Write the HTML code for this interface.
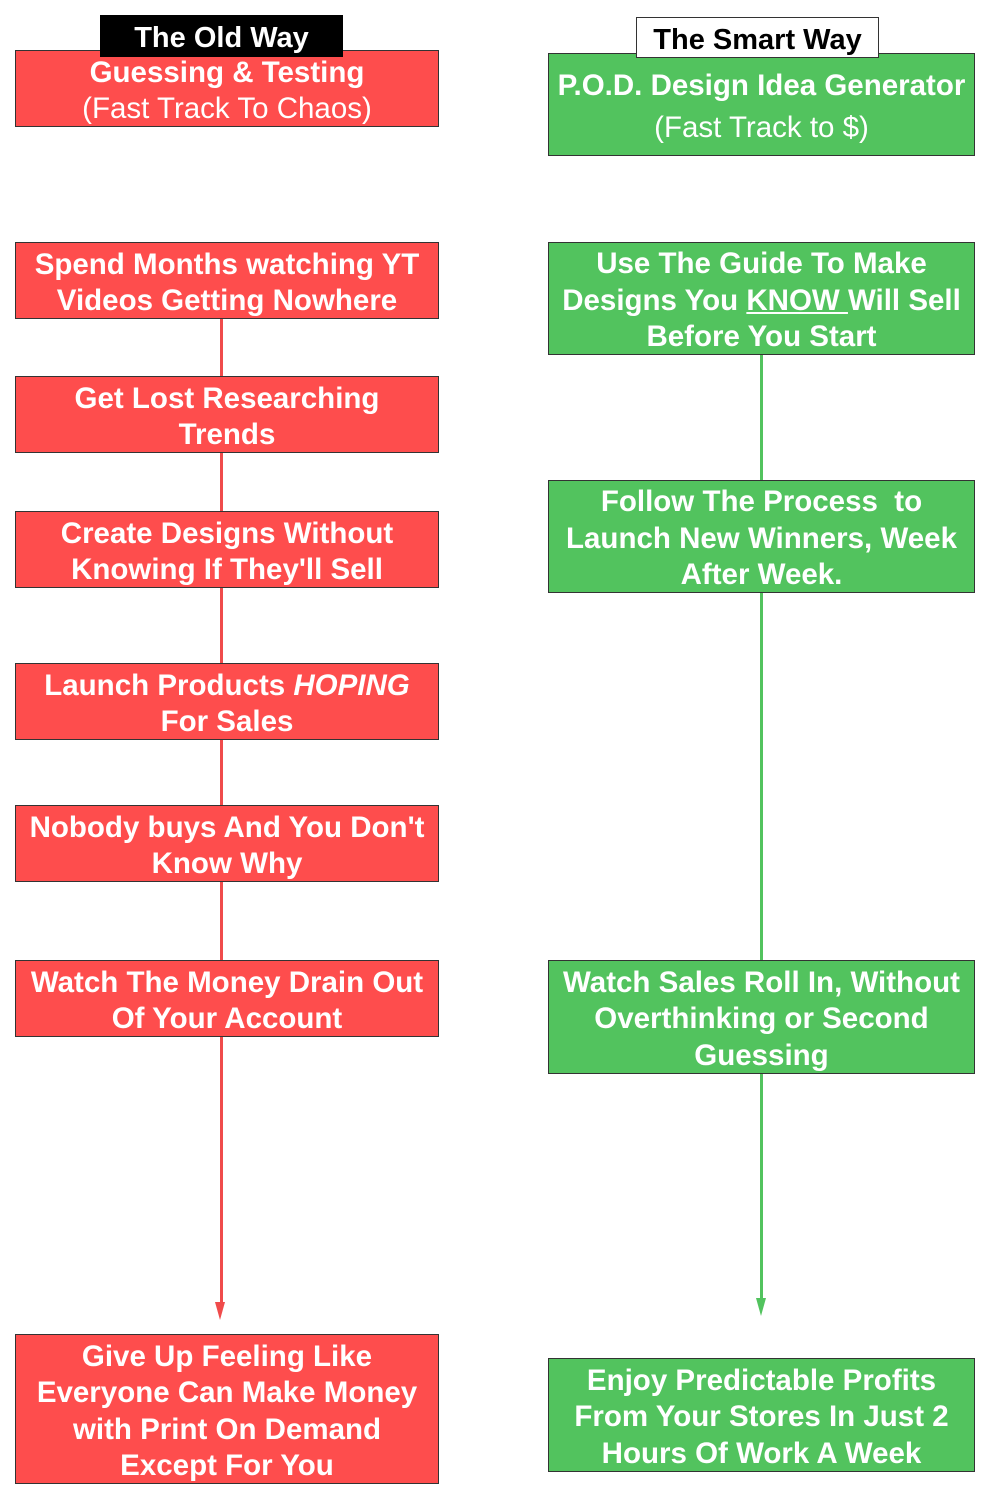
<!DOCTYPE html>
<html><head><meta charset="utf-8"><style>
body{margin:0;width:989px;height:1500px;background:#fff;position:relative;font-family:"Liberation Sans",sans-serif;overflow:hidden}
.b{position:absolute;box-sizing:border-box;border:1.5px solid #333;color:#fff;font-weight:bold;font-size:29.5px;line-height:36.5px;text-align:center;display:flex;flex-direction:column;justify-content:center;letter-spacing:0;padding-top:5px}
.r{background:#fe4d4d;left:15px;width:424px}
.g{background:#52c35e;left:548px;width:427px}
.n{font-weight:normal}
.l{position:absolute;width:3px}
</style></head><body>
<div class="l" style="left:220px;top:319px;height:990px;background:#f04b4b"></div>
<svg style="position:absolute;left:211px;top:1302px" width="18" height="20"><polygon points="4,0 14,0 9,18" fill="#f04b4b"/></svg>
<div class="l" style="left:760px;top:355px;height:950px;background:#52c35e"></div>
<svg style="position:absolute;left:752px;top:1298px" width="18" height="20"><polygon points="4,0 14,0 9,18" fill="#52c35e"/></svg>

<div class="b r" style="top:50px;height:77px"><div>Guessing &amp; Testing</div><div class="n">(Fast Track To Chaos)</div></div>
<div class="b r" style="top:242px;height:77px">Spend Months watching YT<br>Videos Getting Nowhere</div>
<div class="b r" style="top:376px;height:77px">Get Lost Researching<br>Trends</div>
<div class="b r" style="top:511px;height:77px">Create Designs Without<br>Knowing If They'll Sell</div>
<div class="b r" style="top:663px;height:77px"><div>Launch Products <i>HOPING</i></div><div>For Sales</div></div>
<div class="b r" style="top:805px;height:77px">Nobody buys And You Don't<br>Know Why</div>
<div class="b r" style="top:960px;height:77px">Watch The Money Drain Out<br>Of Your Account</div>
<div class="b r" style="top:1334px;height:150px">Give Up Feeling Like<br>Everyone Can Make Money<br>with Print On Demand<br>Except For You</div>

<div class="b g" style="top:53px;height:103px;line-height:42px"><div>P.O.D. Design Idea Generator</div><div class="n">(Fast Track to $)</div></div>
<div class="b g" style="top:242px;height:113px"><div>Use The Guide To Make</div><div>Designs You <u>KNOW </u>Will Sell</div><div>Before You Start</div></div>
<div class="b g" style="top:480px;height:113px">Follow The Process &nbsp;to<br>Launch New Winners, Week<br>After Week.</div>
<div class="b g" style="top:960px;height:114px">Watch Sales Roll In, Without<br>Overthinking or Second<br>Guessing</div>
<div class="b g" style="top:1358px;height:114px">Enjoy Predictable Profits<br>From Your Stores In Just 2<br>Hours Of Work A Week</div>

<div class="b" style="left:100px;top:15px;width:243px;height:42px;background:#000;border-color:#000;font-size:29px">The Old Way</div>
<div class="b" style="left:636px;top:17px;width:243px;height:41px;background:#fff;color:#000;font-size:29px">The Smart Way</div>
</body></html>
